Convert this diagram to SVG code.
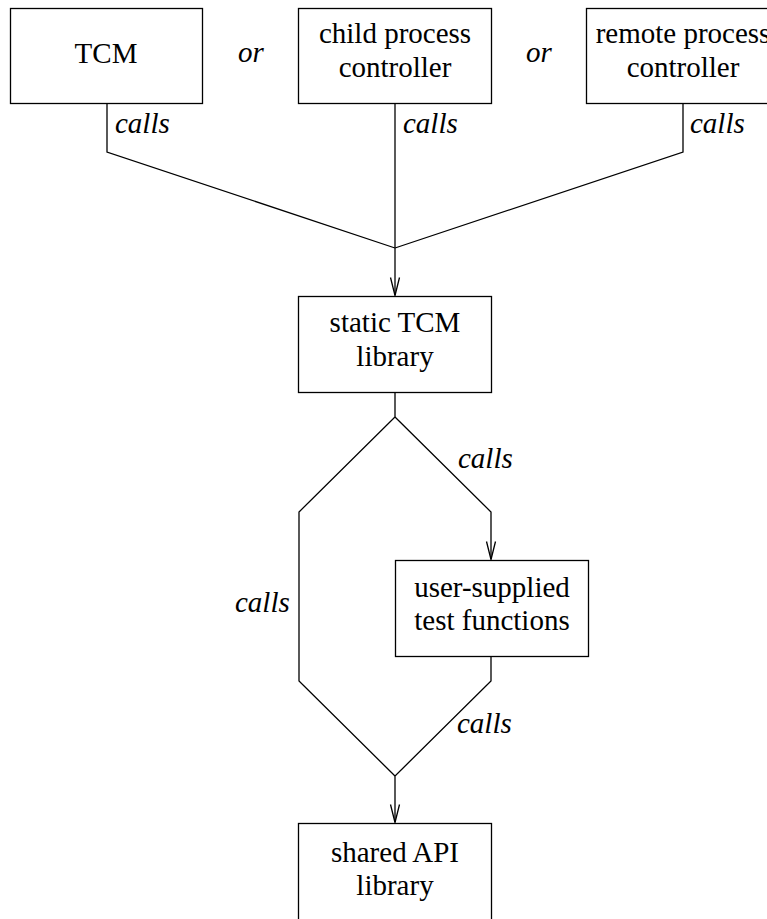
<svg xmlns="http://www.w3.org/2000/svg" width="767" height="919" viewBox="0 0 767 919">
<style>
.box{fill:#fff;stroke:#000;stroke-width:1.3}
.t{font-family:"Liberation Serif","Times New Roman",serif;font-size:29px;fill:#000}
.c{text-anchor:middle}
.i{font-style:italic}
.ln{fill:none;stroke:#000;stroke-width:1.3}
</style>
<defs>
<marker id="arr" markerUnits="userSpaceOnUse" markerWidth="24" markerHeight="14" refX="0" refY="0" viewBox="-20 -7 24 14" orient="auto" overflow="visible">
<path d="M-18,-4.5 L0,0 L-18,4.5" fill="none" stroke="#000" stroke-width="1.3"/>
</marker>
</defs>
<rect width="767" height="919" fill="#fff"/>
<g id="connectors">
<path class="ln" d="M107,103 V152 L395,248"/>
<path class="ln" d="M683,103 V152 L395,248"/>
<path class="ln" d="M395,103 V295.5" marker-end="url(#arr)"/>
<path class="ln" d="M395,392 V417 L299,512 V681 L395,776"/>
<path class="ln" d="M395,417 L491,512 V559.5" marker-end="url(#arr)"/>
<path class="ln" d="M491,656 V681 L395,776 V822.5" marker-end="url(#arr)"/>
<text class="t i" x="115" y="133">calls</text>
<text class="t i" x="403" y="133">calls</text>
<text class="t i" x="690" y="133">calls</text>
<text class="t i" x="458" y="468">calls</text>
<text class="t i" x="235" y="612">calls</text>
<text class="t i" x="457" y="733">calls</text>
</g>
<g id="or1"><text class="t i" x="238" y="62">or</text></g>
<g id="or2"><text class="t i" x="526" y="62">or</text></g>
<g id="tcm">
<rect class="box" x="10.5" y="8.5" width="192" height="95"/>
<text class="t c" x="106" y="63">TCM</text>
</g>
<g id="child">
<rect class="box" x="298.5" y="8.5" width="193" height="95"/>
<text class="t c" x="395" y="43">child process</text>
<text class="t c" x="395" y="77">controller</text>
</g>
<g id="remote">
<rect class="box" x="586.5" y="8.5" width="193" height="95"/>
<text class="t c" x="683" y="43">remote process</text>
<text class="t c" x="683" y="77">controller</text>
</g>
<g id="static">
<rect class="box" x="298.5" y="296.5" width="193" height="96"/>
<text class="t c" x="395" y="332">static TCM</text>
<text class="t c" x="395" y="366">library</text>
</g>
<g id="user">
<rect class="box" x="395.5" y="560.5" width="193" height="96"/>
<text class="t c" x="492" y="597">user-supplied</text>
<text class="t c" x="492" y="630">test functions</text>
</g>
<g id="shared">
<rect class="box" x="298.5" y="823.5" width="193" height="110"/>
<text class="t c" x="395" y="862">shared API</text>
<text class="t c" x="395" y="895">library</text>
</g>
</svg>
